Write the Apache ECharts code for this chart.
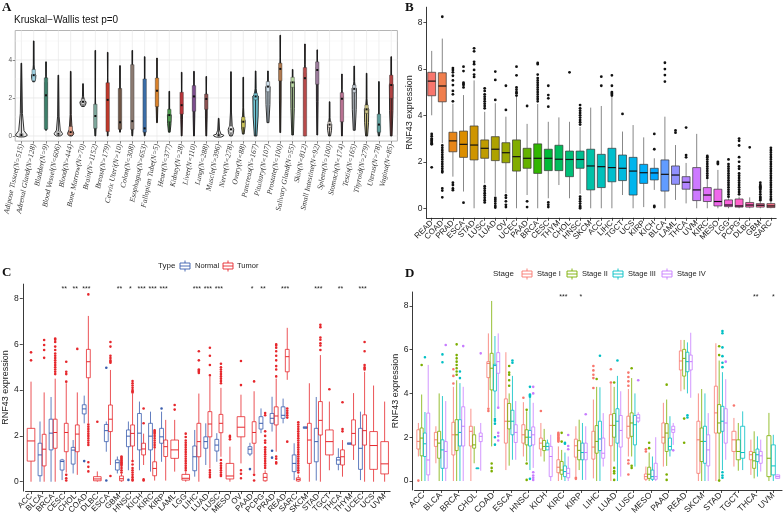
<!DOCTYPE html>
<html><head><meta charset="utf-8">
<script src="https://cdn.jsdelivr.net/npm/echarts@6/dist/echarts.min.js"></script>
<style>html,body{margin:0;padding:0;background:#fff}#c{width:784px;height:520px}</style>
</head><body><div id="c"></div>
<script>
// ---------------- Panel A data (GTEx tissues, violin + box) ----------------
const tissuesA = ['Adipose Tissue(N=515)','Adrenal Gland(N=128)','Bladder(N=9)','Blood Vessel(N=606)','Blood(N=444)','Bone Marrow(N=70)','Brain(N=1152)','Breast(N=179)','Cervix Uteri(N=10)','Colon(N=308)','Esophagus(N=653)','Fallopian Tube(N=5)','Heart(N=377)','Kidney(N=28)','Liver(N=110)','Lung(N=288)','Muscle(N=396)','Nerve(N=278)','Ovary(N=88)','Pancreas(N=167)','Pituitary(N=107)','Prostate(N=100)','Salivary Gland(N=55)','Skin(N=812)','Small Intestine(N=92)','Spleen(N=100)','Stomach(N=174)','Testis(N=165)','Thyroid(N=279)','Uterus(N=78)','Vagina(N=85)'];
// [min, q1, median, q3, max]
const boxA = [[0,0,0.05,0.12,3.83],[2.85,2.9,3.2,3.5,5.0],[0.3,0.35,2.14,3.06,3.9],[0,0.05,0.12,0.25,3.2],[0,0.05,0.2,0.5,3.4],[1.55,1.65,1.8,1.95,2.75],[0,0.4,1.05,1.67,4.5],[0,0.23,1.9,2.8,4.4],[0.2,0.35,0.72,2.5,3.7],[0,0.35,0.78,3.75,4.5],[0,0.2,0.4,3.0,4.17],[0.7,1.55,2.38,3.05,4.1],[0.2,0.75,1.1,1.4,2.35],[0,1.15,1.62,2.3,3.35],[0,1.3,2.08,2.65,3.4],[0,1.4,1.95,2.2,3.13],[0,0,0.04,0.1,0.93],[0,0.17,0.35,0.52,3.38],[0.1,0.45,0.75,1.0,3.09],[0,1.9,2.08,2.25,3.42],[0.7,2.33,2.6,2.86,3.42],[0.18,2.9,3.53,3.83,5.3],[0.05,2.56,2.82,3.09,3.5],[0,0,3.04,3.6,4.84],[0.05,2.72,3.47,3.9,4.53],[0,0.45,0.6,0.75,1.8],[0,0.75,1.96,2.28,3.26],[0.3,2.28,2.48,2.68,3.68],[0,1.19,1.4,1.63,3.3],[0,0.2,0.6,1.15,2.86],[0,1.98,2.68,3.2,4.17]];
// value where the violin is widest, and its relative density there
const densityPeakA = [0.05,3.2,2.8,0.12,0.15,1.8,1.0,2.5,0.6,0.5,0.3,2.4,1.1,1.7,2.1,2.0,0.04,0.35,0.8,2.1,2.6,3.6,2.85,3.3,3.6,0.6,2.1,2.5,1.4,0.5,2.7];
const densityA = [0.96,0.35,0.15,0.68,0.5,0.5,0.15,0.12,0.12,0.12,0.12,0.15,0.3,0.15,0.15,0.15,0.84,0.45,0.3,0.45,0.35,0.15,0.3,0.12,0.15,0.35,0.15,0.35,0.35,0.2,0.3];
const colorsA = ['#e9e9e9','#9ed0e0','#3d7f6a','#f2f2f2','#eaa38c','#d6d6d6','#7fa89c','#c0392b','#6e5444','#8c7b72','#3b6ea8','#d9822b','#4e9a4e','#b8343a','#7b4c8c','#8c5252','#ffffff','#f0f0f0','#c9c156','#72c9d9','#cfe0ec','#b07a50','#b9d8a2','#b84a4a','#9c7c9c','#e3dbd3','#b87292','#c3cbd3','#cbc383','#5c9c9a','#b04242'];
const ticksA = [0,2,4];
const gridLinesA = [0,1,2,3,4,5];

// ---------------- Panel B data (TCGA tumors, sorted) ----------------
const catsB = ['READ','COAD','PRAD','ESCA','STAD','LUSC','LUAD','OV','UCEC','PAAD','BRCA','CESC','THYM','CHOL','HNSC','SKCM','ACC','LIHC','TGCT','UCS','KIRP','KICH','BLCA','LAML','THCA','UVM','KIRC','MESO','LGG','PCPG','DLBC','GBM','SARC'];
const boxB = [[4.0,4.84,5.47,5.85,6.77],[2.8,4.58,5.26,5.83,7.3],[1.36,2.43,2.9,3.27,4.5],[0.72,2.19,2.75,3.32,4.87],[0,2.08,2.72,3.54,5.5],[1.07,2.15,2.58,2.94,4.15],[0.53,2.05,2.54,3.08,4.52],[0.64,1.96,2.39,2.82,3.94],[0,1.6,2.22,2.94,4.8],[0.57,1.72,2.15,2.58,3.63],[0,1.5,2.15,2.77,4.49],[0.43,1.62,2.15,2.54,3.72],[1.0,1.62,2.11,2.71,3.91],[0.43,1.36,2.1,2.46,3.72],[0.62,1.72,2.1,2.46,3.5],[0,0.79,1.82,2.54,4.33],[0,0.89,1.79,2.32,4.4],[0,1.14,1.75,2.58,4.8],[0.57,1.19,1.72,2.29,3.3],[0,0.57,1.6,2.19,3.58],[0.05,1.07,1.53,1.89,3.05],[0.79,1.22,1.52,1.72,2.15],[0,0.74,1.46,2.08,3.94],[0.36,1.03,1.43,1.82,2.72],[0.21,0.82,1.12,1.36,1.95],[0,0.33,0.79,1.75,3.2],[0,0.29,0.57,0.89,1.22],[0,0.1,0.29,0.82,1.65],[0,0.07,0.14,0.36,0.43],[0,0.05,0.1,0.4,0.5],[0,0.05,0.14,0.25,0.47],[0,0.05,0.13,0.2,0.3],[0,0.03,0.1,0.2,0.3]];
const outB = [[3.2,3.1,3.0,2.95,2.9,2.85,2.8,2.75,1.76],[8.24,2.7,2.6,2.5,2.4,2.3,2.2,2.1,2.0,1.9,1.8,1.7,1.6,1.55,0.86,0.76,0.47],[6.03,5.95,5.85,5.7,5.5,5.3,5.05,4.9,4.6,1.1,1.0,0.85,0.78],[6.09,5.9,5.4,5.35,5.3,5.2,0.24],[6.88,6.75,6.3,6.2,5.95,5.75,5.65],[5.16,5.05,4.9,4.8,4.7,4.6,4.5,4.4,4.3,0.95,0.85,0.75,0.65,0.55,0.45,0.35,0.25],[5.88,5.52,4.66,0.45,0.38,0.3,0.2,0.1,0.03],[5.27,4.23,0.55,0.45,0.3,0.15,0.05],[6.09,5.72,5.2,5.1,5.0,4.95,4.85],[4.4,0.3,0.05],[6.25,6.2,5.75,5.6,5.5,5.4,5.3,5.2,5.1,5.0,4.9,4.8,4.7,4.6],[5.27,4.87,4.73,4.37,0.25,0.15,0.05],[],[5.85],[4.44,4.3,4.2,4.1,4.0,3.9,3.8,3.7,3.6,0.5,0.4,0.3,0.2,0.1,0.05,0],[],[5.66,5.27],[5.72,5.27,5.0,4.95,4.9,4.85],[4.06],[],[],[3.2,2.54,0.1,0.05],[6.26,5.99,5.73,5.45],[3.35,3.25],[3.47,2.29,2.19],[],[2.25,2.2,2.1,2.0,1.9,1.8,1.7,1.6,1.5,1.4,1.3],[2.0,1.95,1.9],[2.1,1.9,1.8,1.7,1.6,1.5,1.4,1.3,1.2,1.1,1.0,0.9,0.8,0.7,0.6,0.5],[3.0,2.9,2.7,2.2,2.0,1.8,1.7,1.5,1.4,1.3,1.2,1.1,1.0,0.9,0.8,0.7,0.6],[2.62],[1.1,1.0,0.95,0.9,0.85,0.8,0.7,0.6,0.5,0.45,0.4,0.35],[2.6,2.5,2.4,2.3,2.2,2.1,2.0,1.9,1.8,1.7,1.6,1.5,1.4,1.3,1.2,1.1,1.0,0.9,0.8,0.7,0.6,0.5,0.4,0.35]];
const ticksBCD = [0,2,4,6,8];

// ---------------- Panel C data (Normal vs Tumor) ----------------
const catsC = ['ACC','BLCA','BRCA','CESC','CHOL','COAD','DLBC','ESCA','GBM','HNSC','KICH','KIRC','KIRP','LAML','LGG','LIHC','LUAD','LUSC','MESO','OV','PAAD','PCPG','PRAD','READ','SARC','SKCM','STAD','TGCT','THCA','THYM','UCEC','UCS','UVM'];
const normalC = [null,[0,0.26,1.17,1.68,2.63],[0,1.39,2.12,2.73,3.7],[0.07,0.51,0.88,0.95,1.0],[0.36,0.77,1.38,1.5,1.82],[2.55,2.96,3.18,3.36,3.76],null,[1.31,1.75,2.23,2.5,2.63],[0.36,0.51,0.83,0.95,1.1],[0.5,1.53,1.99,2.26,2.63],[0.5,1.39,2.12,2.98,3.5],[0.44,1.39,1.99,2.55,3.06],[0.87,1.68,1.96,2.33,3.06],null,null,[0.22,0.48,1.09,1.56,2.26],[0.73,1.46,1.75,1.96,2.55],[0.87,1.34,1.6,1.85,2.12],null,null,[1.12,1.21,1.42,1.53,1.7],[2.12,2.3,2.55,2.84,3.2],[2.19,2.55,2.77,2.98,3.71],[2.55,2.77,2.9,3.27,3.63],[0.07,0.44,0.8,1.17,1.68],[2.33,2.33,2.36,2.4,2.4],[0.05,0.87,1.75,2.33,3.7],null,[0.5,0.76,0.95,1.06,1.46],[1.63,1.63,1.66,1.7,1.7],[0.07,0.54,1.46,2.33,3.06],null,null];
const normalOutC = [[],[],[],[],[],[0.9],[],[4.98,0.05],[],[0.08],[],[],[3.2],[],[],[],[],[],[],[],[0.55],[],[1.35,1.05],[],[],[],[],[],[],[],[],[],[]];
const tumorC = [[0,0.9,1.78,2.33,4.37],[0,0.69,1.42,2.07,3.9],[0,1.46,2.15,2.73,4.5],[0.4,1.31,2.15,2.55,4.3],[0.3,1.31,2.08,2.48,3.9],[2.55,4.54,5.24,5.78,7.24],[0,0.04,0.12,0.22,0.45],[0.73,2.19,2.73,3.35,4.88],[0,0.04,0.13,0.25,0.35],[0.95,1.56,2.11,2.48,3.85],[0.73,1.17,1.43,1.68,2.1],[0.05,0.26,0.58,0.87,1.45],[0.05,1.1,1.53,1.82,2.7],[0.44,1.02,1.39,1.82,2.7],[0,0.07,0.15,0.32,0.45],[0,1.09,1.75,2.55,3.85],[0.58,1.96,2.52,3.06,4.6],[1.09,2.14,2.55,2.94,4.1],[0,0.12,0.25,0.8,1.53],[0.8,1.96,2.38,2.84,3.8],[0.36,1.68,2.15,2.62,3.95],[0,0.04,0.19,0.36,0.5],[1.31,2.48,2.87,3.27,4.5],[4.45,4.8,5.46,5.78,6.72],[0,0.03,0.1,0.17,0.3],[0,0.8,1.82,2.55,4.3],[0,2.04,2.68,3.5,5.53],[0.5,1.17,1.75,2.26,3.5],[0.22,0.73,1.09,1.39,1.82],[0.95,1.6,2.11,2.7,3.87],[0,1.6,2.23,2.92,4.8],[0,0.54,1.58,2.19,4.2],[0,0.34,0.78,1.75,3.5]];
const tumorOutC = [[5.65,5.3],[6.19,5.97,5.75,5.41],[6.25,6.2,6.1,5.9,5.75,5.6,5.5,5.4,5.3,5.2,5.1,5.0,4.9,4.8,4.7],[5.24,4.8,4.7,4.37,0.3,0.15,0.05],[5.8],[8.18,2.5,2.4,2.3,2.2,2.1,2.0,1.9,1.8,1.7,1.6,0.85,0.65,0.45],[2.62],[6.1,5.9,5.5,5.4,5.3,5.25,5.2,0.25],[1.1,1.05,1.0,0.95,0.9,0.85,0.8,0.75,0.7,0.6,0.5,0.4],[4.4,4.3,4.2,4.1,4.0,3.95,3.9,0.9,0.75,0.6,0.5,0.4,0.3,0.2,0.1,0.05],[3.2,2.55,0.1,0.05],[2.25,2.2,2.15,2.1,2.0,1.9,1.8,1.7,1.6,1.5],[],[3.35,3.15],[2.1,1.95,1.8,1.7,1.6,1.5,1.4,1.3,1.2,1.1,1.0,0.9,0.8,0.7,0.6,0.5],[5.7,5.3,4.9,4.85,4.8,4.75],[5.85,5.5,5.1,4.65,0.5,0.4,0.3,0.2],[5.15,5.0,4.9,4.8,4.7,4.6,4.5,4.4,4.3,0.95,0.8,0.7,0.6,0.5,0.4,0.3,0.25],[2.0,1.95,1.85],[5.27,4.22,0.5,0.35,0.15],[4.38,0.3,0.05],[3.0,2.9,2.2,2.0,1.8,1.7,1.5,1.4,1.3,1.2,1.1,1.0,0.9,0.8,0.7,0.6],[6.0,5.95,5.85,5.7,5.5,5.3,5.05,4.9,4.6,1.1,1.0,0.85,0.8],[3.2,3.1,3.0,2.9,2.8,1.75],[2.6,2.5,2.4,2.3,2.2,2.1,2.0,1.9,1.8,1.7,1.6,1.5,1.4,1.3,1.2,1.1,1.0,0.9,0.8,0.7,0.6,0.5,0.4],[],[6.85,6.75,6.3,6.2,6.05,5.95,5.75],[4.04],[3.47,2.3,2.2],[],[6.1,5.7,5.1,5.0,4.95,4.9],[],[]];
const sigC = ['','','','**','**','***','','','**','*','***','***','***','','','***','***','***','','','*','**','','***','','','***','','**','','***','',''];

// ---------------- Panel D data (stages) ----------------
const catsD = ['ACC','BLCA','BRCA','CHOL','COAD','ESCA','HNSC','KICH','KIRC','KIRP','LIHC','LUAD','LUSC','MESO','PAAD','READ','SKCM','STAD','TGCT','THCA','UVM'];
const stage1D = [[1.12,1.46,1.81,2.34,2.65],[0.81,1.58,1.88,2.22,2.5],[0,1.19,2.11,2.68,4.3],[0,1.6,2.27,2.5,3.3],[3.35,4.72,5.37,5.45,6.74],[0.5,1.73,2.73,3.75,5.88],[1.12,1.73,2.11,2.57,3.6],[1.12,1.46,1.73,1.96,2.65],[0,0.38,0.63,0.97,1.58],[0.2,1.09,1.61,1.91,2.5],[0.12,1.0,1.55,2.27,3.72],[0,1.61,2.54,3.03,4.45],[1.12,1.96,2.5,2.96,4.2],[0,0.08,0.2,0.32,0.66],[0.66,1.73,2.0,2.65,3.57],[4.1,5.07,5.48,5.94,6.44],[0,0.35,1.88,2.73,4.0],[0,2.19,3.11,4.33,6.29],[0.66,1.35,1.88,2.27,2.88],[0.28,0.97,1.2,1.35,1.89],null];
const stage2D = [[0,1.15,1.96,2.42,3.95],[0,1.04,1.73,2.27,4.0],[0,1.39,2.11,2.8,4.6],[0.81,1.5,1.65,2.11,2.5],[1.58,4.16,5.15,5.83,8.22],[0.7,2.38,2.73,3.54,4.0],[0.9,1.65,2.0,2.34,3.18],[0.89,1.39,1.58,1.85,2.38],[0.05,0.31,0.5,0.89,1.42],[0.5,0.97,1.4,1.84,2.8],[0,1.27,1.81,2.53,4.3],[0.89,2.0,2.54,3.08,4.3],[1.12,2.04,2.65,3.11,4.7],[0,0.12,0.31,0.63,1.3],[0.69,1.35,2.19,2.62,3.72],[4.18,4.79,5.6,6.01,6.44],[0,0.89,1.81,2.42,4.2],[0.05,2.19,2.65,3.49,5.5],[0.47,0.97,1.35,1.88,2.65],[0.12,0.58,0.92,1.3,2.27],[0,0.2,1.04,2.07,3.11]];
const stage3D = [[0,1.12,1.7,2.19,3.15],[0,0.58,1.42,1.88,3.88],[0,1.6,2.22,2.8,4.47],[0.55,0.56,0.58,0.6,0.61],[2.9,4.11,5.27,5.33,6.62],[0.97,2.11,2.73,3.23,4.8],[0.5,1.6,2.0,2.31,3.8],[1.42,1.42,1.58,1.73,1.89],[0,0.2,0.43,0.69,1.3],[0.05,0.97,1.3,1.73,2.65],[0,1.39,1.92,2.73,4.28],[0,1.73,2.73,3.3,4.8],[0.66,1.65,2.57,2.99,4.0],[0,0.08,0.2,0.5,1.12],[1.12,1.42,1.58,1.96,2.96],[4.0,4.99,5.45,5.88,6.33],[0,0.81,1.81,2.5,4.0],[0.5,2.27,2.73,3.41,4.97],[0.5,1.04,1.3,2.5,3.18],[0.2,0.89,1.2,1.46,2.04],[0,0.28,0.69,1.65,2.11]];
const stage4D = [[0,0.28,0.96,3.1,5.3],[0,0.58,1.35,1.8,3.65],[0,1.6,2.5,3.39,4.3],[0.47,1.8,2.04,2.19,2.65],[3.4,4.92,5.45,5.86,6.74],[0.97,1.76,2.22,2.57,3.65],[0.6,1.65,2.11,2.47,3.57],[0,0.2,1.12,1.58,2.11],[0,0.15,0.35,0.58,1.12],[0.05,0.97,1.3,1.73,2.5],[0.66,1.04,1.27,1.96,3.1],[0.2,1.55,2.31,2.99,4.1],[2.65,2.73,2.88,3.03,3.14],[0,0.08,0.2,0.81,2.0],[1.65,2.22,2.34,2.5,2.65],[3.8,5.07,5.45,5.75,6.77],[0,0.69,1.42,2.11,3.1],[0.97,1.73,2.65,3.3,4.65],null,[0.43,0.81,1.15,1.35,1.89],[0.1,0.12,0.2,0.28,0.3]];
const out1D = [[0.02],[],[5.1,4.8,4.45],[],[3.3,3.2],[],[3.8],[3.2],[2.2,2.15,2.1,2.05,2.0,1.95,1.9,1.85,1.8],[0.15,0.1],[5.25,5.05,4.85,4.7,4.25],[5.1,4.5],[4.95,4.75,4.55,4.35,0.95,0.8,0.3],[1.45,1.35],[],[],[],[],[3.45],[],[]];
const out2D = [[5.3],[],[6.24,5.75,5.6,5.45,5.3,5.15,5.0,4.85],[],[0.8,0.6,0.45],[5.25,4.95,4.85,4.6,4.35],[3.25,0.8,0.05],[],[2.2,1.8],[],[4.66],[4.5,0.6,0.45,0.35,0.05],[5.15,0.7,0.6],[1.75,1.5],[4.4,0.3,0.05],[2.85,1.75],[],[6.15,5.75,0.02],[],[],[]];
const out3D = [[5.65],[5.78,5.42],[5.0,4.7],[],[2.83,2.75,2.62,2.0,1.66],[5.5,5.4],[4.3,3.95,3.9,3.85,0.1],[],[1.75,1.7],[],[5.72],[5.5],[],[],[],[3.0,2.9],[],[6.85,6.75,6.1,5.7,5.4,5.2,0.4,0.25,0.15],[],[],[]];
const out4D = [[],[6.21],[6.16],[5.83],[3.35,2.2,2.05,1.85],[],[4.3,4.0,0.4,0.25,0.15,0.05],[],[2.1,1.6,1.45],[3.05],[],[],[4.6],[],[1.4],[],[],[5.45],[],[],[]];
const sigD = ['','','','','','','','','***','*','','','','','','','','','','**','*'];
const stageNames = ['Stage I','Stage II','Stage III','Stage IV'];

// ---------------- helpers ----------------
function hcl(h, c, l) {
  const hr = h * Math.PI / 180, U = c * Math.cos(hr), V = c * Math.sin(hr);
  const Y = Math.pow((l + 16) / 116, 3);
  const u = U / (13 * l) + 0.19783982, v = V / (13 * l) + 0.46833630;
  const X = 9 * Y * u / (4 * v), Z = -X / 3 - 5 * Y + 3 * Y / v;
  const lin = [3.240479*X - 1.537150*Y - 0.498535*Z, -0.969256*X + 1.875992*Y + 0.041556*Z, 0.055648*X - 0.204043*Y + 1.057311*Z];
  return '#' + lin.map(x => { x = x <= 0.0031308 ? 12.92 * x : 1.055 * Math.pow(x, 1 / 2.4) - 0.055; x = Math.round(Math.max(0, Math.min(1, x)) * 255); return (x < 16 ? '0' : '') + x.toString(16); }).join('');
}
const colorsB = catsB.map((_, i) => hcl(15 + i * 360 / catsB.length, 100, 65));
const stageColors = ['#F8766D', '#7CAE00', '#00BFC4', '#C77CFF'];
const typeColors = ['#3A5DAE', '#E6272C'];

function boxGroup(api, i, s, outs, off, w, st) {
  const band = api.size([1, 0])[0];
  const cx = api.coord([i, 0])[0] + off * band, hw = w * band / 2;
  const Y = v => api.coord([i, v])[1];
  const ch = [];
  ch.push({type: 'line', shape: {x1: cx, y1: Y(s[4]), x2: cx, y2: Y(s[3])}, style: {stroke: st.whisker, lineWidth: st.lw}});
  ch.push({type: 'line', shape: {x1: cx, y1: Y(s[1]), x2: cx, y2: Y(s[0])}, style: {stroke: st.whisker, lineWidth: st.lw}});
  ch.push({type: 'rect', shape: {x: cx - hw, y: Y(s[3]), width: 2 * hw, height: Math.max(0.6, Y(s[1]) - Y(s[3]))}, style: {fill: st.fill, stroke: st.stroke, lineWidth: st.lw}});
  ch.push({type: 'line', shape: {x1: cx - hw, y1: Y(s[2]), x2: cx + hw, y2: Y(s[2])}, style: {stroke: st.median, lineWidth: st.mlw}});
  (outs || []).forEach(v => ch.push({type: 'circle', shape: {cx: cx, cy: Y(v), r: st.r}, style: {fill: st.pt}}));
  return {type: 'group', children: ch};
}

function dodgedSeries(axisIdx, cats, groups, outsList, colors) {
  return groups.map((stats, g) => ({
    type: 'custom', xAxisIndex: axisIdx, yAxisIndex: axisIdx, z: 3,
    data: cats.map((c, i) => [i, stats[i] ? stats[i][2] : 0]),
    renderItem: (p, api) => {
      const i = p.dataIndex; const s = stats[i]; if (!s) return null;
      const present = groups.map((gs, k) => gs[i] ? k : -1).filter(k => k >= 0);
      const n = present.length, k = present.indexOf(g);
      const w = 0.75 / n, off = -0.375 + (k + 0.5) * w;
      return boxGroup(api, i, s, outsList[g][i], off, w * 0.92, {whisker: colors[g], stroke: colors[g], fill: 'rgba(255,255,255,0)', median: colors[g], lw: 0.8, mlw: 1, r: 1.3, pt: colors[g]});
    }
  }));
}

function starSeries(axisIdx, sig, yv) {
  return {type: 'custom', xAxisIndex: axisIdx, yAxisIndex: axisIdx, z: 4, data: sig.map((s, i) => [i, yv]),
    renderItem: (p, api) => { const s = sig[p.dataIndex]; if (!s) return null; const pt = api.coord([p.dataIndex, yv]);
      return {type: 'text', x: pt[0], y: pt[1], style: {text: s, textAlign: 'center', textVerticalAlign: 'middle', fontSize: 7, fill: '#222', fontFamily: 'Liberation Sans'}}; }};
}

// ---------------- series ----------------
const series = [];
// Panel A grid lines
series.push({type: 'custom', xAxisIndex: 0, yAxisIndex: 0, z: 1, data: [[0, 0]], silent: true,
  renderItem: (p, api) => {
    const cs = p.coordSys; const ch = [];
    tissuesA.forEach((t, i) => { const x = api.coord([i, 0])[0]; ch.push({type: 'line', shape: {x1: x, y1: cs.y, x2: x, y2: cs.y + cs.height}, style: {stroke: '#ebebeb', lineWidth: 0.8}}); });
    gridLinesA.forEach(v => { const y = api.coord([0, v])[1]; ch.push({type: 'line', shape: {x1: cs.x, y1: y, x2: cs.x + cs.width, y2: y}, style: {stroke: v % 2 === 0 ? '#e6e6e6' : '#f3f3f3', lineWidth: v % 2 === 0 ? 0.8 : 0.5}}); });
    return {type: 'group', children: ch};
  }});
// Panel A violins + boxes
series.push({type: 'custom', xAxisIndex: 0, yAxisIndex: 0, z: 3, data: tissuesA.map((t, i) => [i, boxA[i][2]]),
  renderItem: (p, api) => {
    const i = p.dataIndex, s = boxA[i];
    const band = api.size([1, 0])[0];
    const cx = api.coord([i, 0])[0];
    const Y = v => api.coord([i, v])[1];
    const pk = densityPeakA[i], w = Math.max(0.5, densityA[i] * band / 2);
    const bot = Math.min(s[0], pk - 0.1), top = s[4];
    const right = [[cx + w * 0.45, Y(bot)], [cx + w * 0.9, Y(bot + (pk - bot) * 0.5)], [cx + w, Y(pk)], [cx + w * 0.45, Y(pk + (top - pk) * 0.06)], [cx + w * 0.18, Y(pk + (top - pk) * 0.3)], [cx + 0.3, Y(top)]];
    const left = right.slice().reverse().map(q => [2 * cx - q[0], q[1]]);
    const bw = 0.28 * band / 2;
    return {type: 'group', children: [
      {type: 'polygon', shape: {points: right.concat(left)}, style: {fill: colorsA[i], stroke: '#1a1a1a', lineWidth: 0.9, lineJoin: 'round'}},
      {type: 'line', shape: {x1: cx, y1: Y(s[4]), x2: cx, y2: Y(s[0])}, style: {stroke: '#1a1a1a', lineWidth: 0.9}},
      {type: 'rect', shape: {x: cx - bw, y: Y(s[3]), width: 2 * bw, height: Math.max(1, Y(s[1]) - Y(s[3]))}, style: {fill: colorsA[i], stroke: '#333', lineWidth: 0.4}},
      {type: 'rect', shape: {x: cx - 1, y: Y(s[2]) - 1, width: 2, height: 2}, style: {fill: '#111'}}
    ]};
  }});
// Panel B boxes
series.push({type: 'custom', xAxisIndex: 1, yAxisIndex: 1, z: 3, data: catsB.map((c, i) => [i, boxB[i][2]]),
  renderItem: (p, api) => boxGroup(api, p.dataIndex, boxB[p.dataIndex], outB[p.dataIndex], 0, 0.75,
    {whisker: '#555', stroke: '#333', fill: colorsB[p.dataIndex], median: '#111', lw: 0.7, mlw: 1.2, r: 1.4, pt: '#111'})});
// Panel C
dodgedSeries(2, catsC, [normalC, tumorC], [normalOutC, tumorOutC], typeColors).forEach(s => series.push(s));
series.push(starSeries(2, sigC, 8.42));
// Panel D
dodgedSeries(3, catsD, [stage1D, stage2D, stage3D, stage4D], [out1D, out2D, out3D, out4D], stageColors).forEach(s => series.push(s));
series.push(starSeries(3, sigD, 8.42));

// ---------------- axes ----------------
const SANS = 'Liberation Sans';
function catAxis(grid, data, rot, fs, extra) {
  return Object.assign({type: 'category', gridIndex: grid, data: data, boundaryGap: true,
    axisLine: {show: true, onZero: false, lineStyle: {color: '#222', width: 0.9}},
    axisTick: {show: true, alignWithLabel: true, length: 3, lineStyle: {color: '#222', width: 0.8}},
    axisLabel: {interval: 0, rotate: rot, fontSize: fs, color: '#222', margin: 4, fontFamily: SANS},
    splitLine: {show: false}}, extra || {});
}
function valAxis(grid, min, max, ticks, extra) {
  return Object.assign({type: 'value', gridIndex: grid, min: min, max: max,
    axisLine: {show: true, onZero: false, lineStyle: {color: '#222', width: 0.9}},
    axisTick: {show: true, length: 3, customValues: ticks, lineStyle: {color: '#222', width: 0.8}},
    axisLabel: {fontSize: 8.5, color: '#222', margin: 4, customValues: ticks, fontFamily: SANS},
    splitLine: {show: false},
    name: 'RNF43 expression', nameLocation: 'middle', nameRotate: 90,
    nameTextStyle: {fontSize: 9, color: '#222', fontFamily: SANS}}, extra || {});
}

const option = {
  animation: false,
  backgroundColor: '#fff',
  grid: [
    {left: 15.2, top: 30.5, width: 382.2, height: 110.6, show: true, borderColor: '#b5b5b5', borderWidth: 1, backgroundColor: '#fff'},
    {left: 426.4, top: 7.2, width: 349.8, height: 210.6},
    {left: 25.5, top: 284.1, width: 364.65, height: 207},
    {left: 414.55, top: 292, width: 367.5, height: 198}
  ],
  xAxis: [
    catAxis(0, tissuesA, 78, 7.5, {axisLine: {show: false, onZero: false},
      axisTick: {show: true, alignWithLabel: true, length: 2.5, lineStyle: {color: '#555', width: 0.7}},
      axisLabel: {interval: 0, rotate: 78, fontSize: 7.5, color: '#333', margin: 3, fontStyle: 'italic', fontFamily: 'Liberation Serif'}}),
    catAxis(1, catsB, 45, 8),
    catAxis(2, catsC, 45, 8),
    catAxis(3, catsD, 45, 8.5)
  ],
  yAxis: [
    {type: 'value', gridIndex: 0, min: -0.27, max: 5.55,
      axisLine: {show: false}, splitLine: {show: false},
      axisTick: {show: true, length: 2.5, customValues: ticksA, lineStyle: {color: '#555', width: 0.7}},
      axisLabel: {fontSize: 6.5, color: '#555', margin: 3, customValues: ticksA, fontFamily: SANS}},
    valAxis(1, -0.41, 8.65, ticksBCD, {nameGap: 12}),
    valAxis(2, -0.41, 8.63, ticksBCD, {offset: 2.7, nameGap: 8}),
    valAxis(3, -0.41, 8.63, ticksBCD, {offset: 2, nameGap: 10})
  ],
  series: series,
  graphic: {elements: buildGraphics()}
};

function keyIcon(x, y, color) {
  return [
    {type: 'rect', shape: {x: x - 5, y: y - 3, width: 10, height: 6}, style: {fill: '#fff', stroke: color, lineWidth: 0.9}},
    {type: 'line', shape: {x1: x - 5, y1: y, x2: x + 5, y2: y}, style: {stroke: color, lineWidth: 0.9}},
    {type: 'line', shape: {x1: x, y1: y - 5.5, x2: x, y2: y - 3}, style: {stroke: color, lineWidth: 0.9}},
    {type: 'line', shape: {x1: x, y1: y + 3, x2: x, y2: y + 5.5}, style: {stroke: color, lineWidth: 0.9}}
  ];
}
function txt(x, y, s, fs, opt) {
  return Object.assign({type: 'text', x: x, y: y, style: Object.assign({text: s, fontSize: fs, fill: '#222', fontFamily: SANS, textVerticalAlign: 'middle'}, opt || {})});
}
function buildGraphics() {
  const els = [];
  const L = {fontFamily: 'Liberation Serif', fontWeight: 'bold', fill: '#111'};
  els.push(txt(2, 8, 'A', 13, L));
  els.push(txt(405, 8, 'B', 13, L));
  els.push(txt(2, 273, 'C', 13, L));
  els.push(txt(405, 274, 'D', 13, L));
  els.push(txt(14, 20, 'Kruskal\u2212Wallis test p=0', 10, {fill: '#111'}));
  // legend C
  els.push(txt(158, 266, 'Type', 8));
  keyIcon(185, 266, typeColors[0]).forEach(e => els.push(e));
  els.push(txt(195, 266, 'Normal', 7.5));
  keyIcon(228, 266, typeColors[1]).forEach(e => els.push(e));
  els.push(txt(237, 266, 'Tumor', 7.5));
  // legend D
  els.push(txt(493, 274, 'Stage', 8));
  const kx = [527, 572, 618, 667], tx = [537, 582, 628, 677];
  stageNames.forEach((s, k) => { keyIcon(kx[k], 274, stageColors[k]).forEach(e => els.push(e)); els.push(txt(tx[k], 274, s, 7.5)); });
  return els;
}

const chart = echarts.init(document.getElementById('c'), null, {renderer: 'canvas'});
chart.setOption(option);
</script>
</body></html>
